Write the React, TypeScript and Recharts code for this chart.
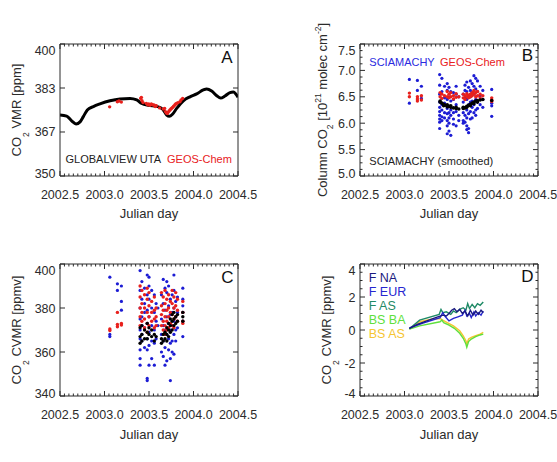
import React from 'react';
import { ComposedChart, XAxis, YAxis, Scatter, Line } from 'recharts';

const FONT = '"Liberation Sans", Arial, Helvetica, sans-serif';
const INK = '#2b2b2b';
const RED = '#e8201c';
const BLUE = '#1c1cd4';
const BLACK = '#000000';
const C_FNA = '#1a1a80';
const C_FEUR = '#2626d0';
const C_FAS = '#1f8a66';
const C_BSBA = '#5ee03c';
const C_BSAS = '#f5c531';

// ---------- shared x axis (Julian day as decimal year) ----------
const xDomain: [number, number] = [2002.5, 2004.5];
const xMajor = [2002.5, 2003.0, 2003.5, 2004.0, 2004.5];
const xLabels = ['2002.5', '2003.0', '2003.5', '2004.0', '2004.5'];
const xMinorStep = 0.05;

// ---------- Panel A ----------
const aYDomain: [number, number] = [350, 400];
const aYMajor = [350, 366.6667, 383.3333, 400];
const aYLabels = ['350', '367', '383', '400'];
const aGlobalview: [number, number][] = [
  [2002.5, 373.1], [2002.575, 372.7], [2002.631, 370.9], [2002.68, 369.7], [2002.725, 370.5],
  [2002.762, 372.5], [2002.807, 375.0], [2002.875, 376.3], [2002.949, 377.3], [2003.062, 378.5],
  [2003.174, 379.2], [2003.287, 379.4], [2003.362, 378.8], [2003.418, 377.5], [2003.493, 376.8],
  [2003.587, 376.4], [2003.654, 375.3], [2003.699, 373.1], [2003.728, 372.6], [2003.766, 373.5],
  [2003.811, 375.6], [2003.886, 378.5], [2003.961, 380.0], [2004.036, 381.1], [2004.11, 382.6],
  [2004.148, 383.0], [2004.204, 382.2], [2004.261, 380.4], [2004.305, 379.5], [2004.354, 380.3],
  [2004.41, 381.6], [2004.447, 381.8], [2004.5, 379.8],
];
const aGeosChem: [number, number][] = [
  [2003.058, 376.2], [2003.144, 378.1], [2003.163, 378.4], [2003.189, 378.0], [2003.407, 379.4],
  [2003.414, 379.8], [2003.421, 378.5], [2003.433, 377.8], [2003.47, 377.5], [2003.485, 377.0],
  [2003.497, 377.3], [2003.51, 376.8], [2003.526, 377.3], [2003.54, 377.0], [2003.556, 376.9],
  [2003.57, 376.3], [2003.582, 376.6], [2003.62, 375.8], [2003.66, 375.4], [2003.676, 375.6],
  [2003.685, 374.4], [2003.695, 373.9], [2003.706, 373.7], [2003.716, 374.2], [2003.726, 374.6],
  [2003.736, 375.0], [2003.746, 375.4], [2003.756, 375.7], [2003.766, 376.0], [2003.776, 376.4],
  [2003.79, 376.9], [2003.8, 377.3], [2003.811, 377.5], [2003.825, 377.8], [2003.848, 378.1],
  [2003.86, 378.8], [2003.878, 379.4],
];

// ---------- Panel B ----------
const bYDomain: [number, number] = [5.0, 7.5];
const bYMajor = [5.0, 5.5, 6.0, 6.5, 7.0, 7.5];
const bYLabels = ['5.0', '5.5', '6.0', '6.5', '7.0', '7.5'];
const bYMinorStep = 0.125;
const bSciamachy: [number, number[]][] = [
  [2003.055, [6.83, 6.38]], [2003.145, [6.81, 6.62]], [2003.19, [6.7, 6.47]],
  [2003.395, [6.92, 6.72, 6.55, 6.4, 6.3, 6.22, 6.15, 6.08, 6.02, 5.9]],
  [2003.42, [6.85, 6.6, 6.35, 6.25, 6.12, 6.05]], [2003.45, [6.7, 6.48, 6.38, 6.2, 6.1]],
  [2003.48, [6.75, 6.62, 6.45, 6.28, 6.18, 6.05, 5.95, 5.8]],
  [2003.5, [6.68, 6.5, 6.32, 6.2, 6.1, 6.0, 5.85]], [2003.52, [6.6, 6.42, 6.25, 6.15, 5.77]],
  [2003.55, [6.58, 6.45, 6.2, 6.08, 5.98]], [2003.58, [6.7, 6.55, 6.35, 6.22, 5.95]],
  [2003.61, [6.5, 6.15, 6.05]], [2003.66, [6.55, 6.4, 6.2, 6.05, 6.0]],
  [2003.68, [6.72, 6.62, 6.48, 6.3, 6.15, 6.02]], [2003.7, [6.78, 6.6, 6.45, 6.25, 6.1, 5.95, 5.88]],
  [2003.72, [6.68, 6.52, 6.35, 6.18, 5.9, 5.82]], [2003.74, [6.8, 6.62, 6.5, 6.4, 6.22, 6.08]],
  [2003.76, [6.75, 6.58, 6.42, 6.3, 6.1]], [2003.78, [6.9, 6.7, 6.55, 6.35, 6.2]],
  [2003.8, [6.85, 6.65, 6.45, 6.25, 6.15]], [2003.82, [6.8, 6.6, 6.4, 6.28]],
  [2003.85, [6.7, 6.52, 6.35]], [2003.88, [6.62, 6.45, 6.3]], [2003.98, [6.64, 6.38, 6.33, 6.13]],
];
const bGeosChem: [number, number[]][] = [
  [2003.055, [6.57, 6.5]], [2003.145, [6.5, 6.46, 6.42]], [2003.19, [6.52, 6.44]],
  [2003.4, [6.58, 6.5]], [2003.42, [6.55, 6.47]], [2003.45, [6.52]], [2003.48, [6.6, 6.5]],
  [2003.5, [6.55, 6.48]], [2003.52, [6.58, 6.5]], [2003.55, [6.52, 6.46]], [2003.58, [6.56, 6.49]],
  [2003.61, [6.5]], [2003.66, [6.55, 6.48]], [2003.68, [6.52, 6.45]], [2003.7, [6.56, 6.5]],
  [2003.72, [6.48, 6.53]], [2003.74, [6.55, 6.5]], [2003.76, [6.58, 6.52]], [2003.78, [6.62, 6.55]],
  [2003.8, [6.58, 6.5]], [2003.82, [6.6, 6.52]], [2003.85, [6.55, 6.48]], [2003.88, [6.52]],
  [2003.98, [6.48, 6.44, 6.41]],
];
const bSmoothed: [number, number[]][] = [
  [2003.4, [6.42, 6.4]], [2003.42, [6.38]], [2003.44, [6.36, 6.33]], [2003.46, [6.34]],
  [2003.48, [6.35, 6.31]], [2003.5, [6.32]], [2003.52, [6.3, 6.33]], [2003.55, [6.29]],
  [2003.58, [6.28, 6.3]], [2003.61, [6.27]], [2003.66, [6.28, 6.3]], [2003.68, [6.29]],
  [2003.7, [6.32, 6.3]], [2003.72, [6.34]], [2003.74, [6.36, 6.33]], [2003.76, [6.38]],
  [2003.78, [6.4, 6.37]], [2003.8, [6.42]], [2003.82, [6.43, 6.4]], [2003.85, [6.44]],
  [2003.88, [6.45]], [2003.98, [6.43]],
];

// ---------- Panel C ----------
const cYDomain: [number, number] = [340, 400];
const cYMajor = [340, 360, 380, 400];
const cYLabels = ['340', '360', '380', '400'];
const cSciamachy: [number, number[]][] = [
  [2003.06, [394, 368, 367]], [2003.145, [391, 388]], [2003.19, [390, 383, 379]],
  [2003.4, [397, 388, 380, 375, 370, 366, 361, 357, 354]], [2003.42, [392, 384, 376, 372, 368, 365]],
  [2003.45, [389, 382, 378, 371, 362]], [2003.48, [395, 386, 379, 373, 366, 361, 348, 347]],
  [2003.5, [394, 390, 384, 376, 369, 363, 354]], [2003.53, [388, 380, 372, 365, 357]],
  [2003.56, [386, 378, 370, 364, 354]], [2003.58, [382, 374, 366]], [2003.6, [380, 372]],
  [2003.64, [386, 375, 368, 360]], [2003.66, [393, 382, 372, 365, 358]],
  [2003.68, [389, 379, 370, 362, 354]], [2003.7, [392, 387, 376, 368, 356]],
  [2003.72, [390, 381, 373, 366, 361]], [2003.74, [384, 377, 370, 364, 357, 347]],
  [2003.76, [386, 378, 372, 365, 360]], [2003.78, [395, 388, 380, 374, 368, 359]],
  [2003.8, [383, 376, 370, 365]], [2003.82, [385, 378, 371]], [2003.88, [389, 384, 381, 378, 374, 367]],
];
const cGeosChem: [number, number[]][] = [
  [2003.06, [370.5, 369.8]], [2003.145, [378, 372.5, 371.5]], [2003.19, [373, 372.3]],
  [2003.4, [390, 385, 380, 376, 372]], [2003.42, [388, 382, 378, 374]], [2003.45, [386, 380, 375, 371]],
  [2003.48, [389, 384, 378, 373, 369]], [2003.5, [387, 381, 376, 372]], [2003.53, [383, 378, 374]],
  [2003.56, [385, 379, 375, 371]], [2003.58, [380, 376, 372]], [2003.64, [387, 381, 377, 372]],
  [2003.66, [385, 379, 374, 370]], [2003.68, [388, 382, 376, 372, 368]], [2003.7, [384, 379, 374, 370]],
  [2003.72, [386, 380, 376, 371]], [2003.74, [383, 378, 373]], [2003.76, [388, 382, 377, 372]],
  [2003.78, [385, 380, 375, 371]], [2003.8, [387, 381, 376]], [2003.82, [384, 379, 374]],
  [2003.88, [383, 378, 374, 373]],
];
const cSmoothed: [number, number[]][] = [
  [2003.4, [371, 367, 364]], [2003.42, [372, 368, 365]], [2003.45, [370, 366]],
  [2003.48, [373, 369, 366]], [2003.5, [371, 368]], [2003.53, [370, 367]], [2003.56, [368, 365]],
  [2003.58, [367]], [2003.64, [366, 364]], [2003.66, [368, 365]], [2003.68, [369, 366]],
  [2003.7, [371, 368, 365]], [2003.72, [373, 370, 367]], [2003.74, [375, 372, 369]],
  [2003.76, [377, 374, 370]], [2003.78, [378, 375, 372]], [2003.8, [376, 373]], [2003.82, [377, 374]],
  [2003.88, [378, 376, 374]],
];

// ---------- Panel D ----------
const dYDomain: [number, number] = [-4, 4];
const dYMajor = [-4, -2, 0, 2, 4];
const dYLabels = ['-4', '-2', '0', '2', '4'];
const dYMinorStep = 0.5;
const dFNA: [number, number][] = [
  [2003.055, 0.1], [2003.15, 0.35], [2003.25, 0.55], [2003.35, 0.75], [2003.43, 0.9], [2003.47, 0.85],
  [2003.5, 1.0], [2003.53, 1.2], [2003.56, 1.3], [2003.59, 1.1], [2003.62, 1.25], [2003.65, 1.0],
  [2003.68, 1.15], [2003.71, 0.85], [2003.74, 1.2], [2003.77, 0.9], [2003.8, 1.15], [2003.83, 0.95],
  [2003.86, 1.2], [2003.885, 1.05],
];
const dFEUR: [number, number][] = [
  [2003.055, 0.12], [2003.2, 0.4], [2003.4, 0.75], [2003.43, 1.05], [2003.46, 0.8], [2003.5, 0.55],
  [2003.55, 0.7], [2003.6, 0.8], [2003.65, 0.9], [2003.68, 1.2], [2003.7, 0.85], [2003.73, 1.0],
  [2003.75, 0.75], [2003.78, 1.1], [2003.8, 0.85], [2003.83, 1.05], [2003.86, 0.9], [2003.885, 1.15],
];
const dFAS: [number, number][] = [
  [2003.055, 0.08], [2003.17, 0.6], [2003.39, 0.95], [2003.41, 1.25], [2003.43, 1.05], [2003.47, 1.1],
  [2003.52, 0.95], [2003.55, 1.15], [2003.58, 1.05], [2003.62, 1.25], [2003.66, 1.35], [2003.69, 1.2],
  [2003.71, 1.6], [2003.73, 1.3], [2003.76, 1.55], [2003.79, 1.35], [2003.82, 1.6], [2003.85, 1.5],
  [2003.885, 1.7],
];
const dBSBA: [number, number][] = [
  [2003.055, 0.05], [2003.17, 0.25], [2003.4, 0.5], [2003.42, 0.6], [2003.44, 0.45], [2003.5, 0.3],
  [2003.56, 0.1], [2003.62, -0.2], [2003.66, -0.5], [2003.69, -0.85], [2003.7, -1.05], [2003.72, -0.7],
  [2003.75, -0.55], [2003.8, -0.4], [2003.85, -0.3], [2003.885, -0.25],
];
const dBSAS: [number, number][] = [
  [2003.055, 0.05], [2003.17, 0.5], [2003.3, 0.65], [2003.4, 0.7], [2003.43, 0.6], [2003.48, 0.45],
  [2003.55, 0.25], [2003.62, -0.05], [2003.66, -0.35], [2003.69, -0.65], [2003.7, -0.85], [2003.72, -0.55],
  [2003.75, -0.45], [2003.8, -0.35], [2003.85, -0.25], [2003.885, -0.15],
];
const dLegend = [
  { name: 'F NA', color: C_FNA },
  { name: 'F EUR', color: C_FEUR },
  { name: 'F AS', color: C_FAS },
  { name: 'BS BA', color: C_BSBA },
  { name: 'BS AS', color: C_BSAS },
];

// ---------- helpers ----------
const pairs = (p: [number, number][]) => p.map(([x, y]) => ({ x, y }));
const cols = (c: [number, number[]][]) => c.flatMap(([x, ys]) => ys.map((y) => ({ x, y })));
const withMinor = (majors: number[], step: number | null) => {
  if (!step) return majors;
  const out: number[] = [];
  const a = majors[0];
  const b = majors[majors.length - 1];
  const n = Math.round((b - a) / step);
  for (let i = 0; i <= n; i++) out.push(Math.round((a + i * step) * 1e6) / 1e6);
  return out;
};
const majorIndex = (majors: number[], v: number) => majors.findIndex((m) => Math.abs(m - v) < 1e-3);
const dotShape = (color: string, r: number) => (p: any) =>
  p.cx == null ? <g /> : <circle cx={p.cx} cy={p.cy} r={r} fill={color} />;

const MAJ = 5;
const MIN = 2.5;

const bottomTick = (majors: number[], labels: string[]) => (p: any) => {
  const { x, y, payload } = p;
  const i = majorIndex(majors, payload.value);
  return (
    <g>
      <line x1={x} y1={y} x2={x} y2={y - (i >= 0 ? MAJ : MIN)} stroke={INK} />
      {i >= 0 && (
        <text x={x} y={y + 22.5} textAnchor="middle" fontSize={12.5} fill={INK} fontFamily={FONT}>
          {labels[i]}
        </text>
      )}
    </g>
  );
};
const topTick = (majors: number[]) => (p: any) => {
  const { x, y, payload } = p;
  const i = majorIndex(majors, payload.value);
  return <line x1={x} y1={y} x2={x} y2={y + (i >= 0 ? MAJ : MIN)} stroke={INK} />;
};
const leftTick = (majors: number[], labels: string[]) => (p: any) => {
  const { x, y, payload } = p;
  const i = majorIndex(majors, payload.value);
  const nudge = i === majors.length - 1 ? 6.5 : i === 0 ? -3 : 0;
  return (
    <g>
      <line x1={x} y1={y} x2={x + (i >= 0 ? MAJ : MIN)} y2={y} stroke={INK} />
      {i >= 0 && (
        <text x={x - 4.5} y={y + nudge} dy="0.36em" textAnchor="end" fontSize={12.5} fill={INK} fontFamily={FONT}>
          {labels[i]}
        </text>
      )}
    </g>
  );
};
const rightTick = (majors: number[]) => (p: any) => {
  const { x, y, payload } = p;
  const i = majorIndex(majors, payload.value);
  return <line x1={x} y1={y} x2={x - (i >= 0 ? MAJ : MIN)} y2={y} stroke={INK} />;
};

const xTicks = withMinor(xMajor, xMinorStep);

function frame(yDomain: [number, number], yMajor: number[], yLabels: string[], yMinor: number | null) {
  const yTicks = withMinor(yMajor, yMinor);
  return [
    <XAxis key="xb" xAxisId="b" type="number" dataKey="x" domain={xDomain} allowDataOverflow ticks={xTicks}
      interval={0} orientation="bottom" height={40} tickSize={0} tickMargin={0} tickLine={false}
      axisLine={{ stroke: INK }} tick={bottomTick(xMajor, xLabels)} />,
    <XAxis key="xt" xAxisId="t" type="number" dataKey="x" domain={xDomain} allowDataOverflow ticks={xTicks}
      interval={0} orientation="top" height={1} tickSize={0} tickMargin={0} tickLine={false}
      axisLine={{ stroke: INK }} tick={topTick(xMajor)} />,
    <YAxis key="yl" yAxisId="l" type="number" dataKey="y" domain={yDomain} allowDataOverflow ticks={yTicks}
      interval={0} orientation="left" width={40} tickSize={0} tickMargin={0} tickLine={false}
      axisLine={{ stroke: INK }} tick={leftTick(yMajor, yLabels)} />,
    <YAxis key="yr" yAxisId="r" type="number" dataKey="y" domain={yDomain} allowDataOverflow ticks={yTicks}
      interval={0} orientation="right" width={1} tickSize={0} tickMargin={0} tickLine={false}
      axisLine={{ stroke: INK }} tick={rightTick(yMajor)} />,
  ];
}

const txt = (x: number, y: number, s: string, color: string, size: number, anchor: string = 'start') => (
  <text x={x} y={y} fill={color} fontSize={size} fontFamily={FONT} textAnchor={anchor}>{s}</text>
);

const yTitle = (x: number, y: number, parts: React.ReactNode) => (
  <text transform={`translate(${x},${y}) rotate(-90)`} textAnchor="middle" fontSize={13} fill={INK} fontFamily={FONT}>
    {parts}
  </text>
);

const co2cvmr = (
  <>
    <tspan>CO</tspan>
    <tspan dy={8} fontSize={8.5}>2</tspan>
    <tspan dy={-8}> CVMR [ppmv]</tspan>
  </>
);

const W1 = 278;
const W2 = 257;
const H = 230;

export default function App() {
  return (
    <div style={{ position: 'absolute', left: 0, top: 0, width: 557, height: 462, background: '#fff', fontFamily: FONT }}>
      {/* Panel A */}
      <div style={{ position: 'absolute', left: 0, top: 0 }}>
        <ComposedChart width={W1} height={H} margin={{ top: 43, right: W1 - 238 - 1, bottom: H - 44 - 132 - 40, left: 20 }}>
          {frame(aYDomain, aYMajor, aYLabels, null)}
          <Line xAxisId="b" yAxisId="l" data={pairs(aGlobalview)} dataKey="y" type="monotone" stroke={BLACK}
            strokeWidth={3} dot={false} isAnimationActive={false} />
          <Scatter xAxisId="b" yAxisId="l" data={pairs(aGeosChem)} fill={RED} shape={dotShape(RED, 1.7)} isAnimationActive={false} />
          {txt(232.5, 63, 'A', '#111', 17, 'end')}
          {txt(65.5, 163, 'GLOBALVIEW UTA', '#222', 11)}
          {txt(167, 163, 'GEOS-Chem', RED, 11)}
          {yTitle(20.5, 110, (
            <>
              <tspan>CO</tspan>
              <tspan dy={8} fontSize={8.5}>2</tspan>
              <tspan dy={-8}> VMR [ppm]</tspan>
            </>
          ))}
          {txt(149, 218, 'Julian day', INK, 13, 'middle')}
        </ComposedChart>
      </div>

      {/* Panel B */}
      <div style={{ position: 'absolute', left: 300, top: 0 }}>
        <ComposedChart width={W2} height={H} margin={{ top: 43, right: W2 - 238 - 1, bottom: H - 44 - 132 - 40, left: 20 }}>
          {frame(bYDomain, bYMajor, bYLabels, bYMinorStep)}
          <Scatter xAxisId="b" yAxisId="l" data={cols(bSciamachy)} fill={BLUE} shape={dotShape(BLUE, 1.6)} isAnimationActive={false} />
          <Scatter xAxisId="b" yAxisId="l" data={cols(bGeosChem)} fill={RED} shape={dotShape(RED, 1.7)} isAnimationActive={false} />
          <Scatter xAxisId="b" yAxisId="l" data={cols(bSmoothed)} fill={BLACK} shape={dotShape(BLACK, 1.8)} isAnimationActive={false} />
          {txt(233, 61, 'B', '#111', 17, 'end')}
          {txt(69.3, 65.5, 'SCIAMACHY', '#2a2ae0', 11)}
          {txt(140, 65.5, 'GEOS-Chem', RED, 11)}
          {txt(69.3, 165, 'SCIAMACHY (smoothed)', '#222', 11)}
          {yTitle(26.5, 110, (
            <>
              <tspan>Column CO</tspan>
              <tspan dy={6} fontSize={8.5}>2</tspan>
              <tspan dy={-6}> [10</tspan>
              <tspan dy={-6} fontSize={8.5}>21</tspan>
              <tspan dy={6}> molec cm</tspan>
              <tspan dy={-6} fontSize={8.5}>-2</tspan>
              <tspan dy={6}>]</tspan>
            </>
          ))}
          {txt(149, 218, 'Julian day', INK, 13, 'middle')}
        </ComposedChart>
      </div>

      {/* Panel C */}
      <div style={{ position: 'absolute', left: 0, top: 232 }}>
        <ComposedChart width={W1} height={H} margin={{ top: 31, right: W1 - 238 - 1, bottom: H - 32 - 132 - 40, left: 20 }}>
          {frame(cYDomain, cYMajor, cYLabels, null)}
          <Scatter xAxisId="b" yAxisId="l" data={cols(cSciamachy)} fill={BLUE} shape={dotShape(BLUE, 1.6)} isAnimationActive={false} />
          <Scatter xAxisId="b" yAxisId="l" data={cols(cGeosChem)} fill={RED} shape={dotShape(RED, 1.7)} isAnimationActive={false} />
          <Scatter xAxisId="b" yAxisId="l" data={cols(cSmoothed)} fill={BLACK} shape={dotShape(BLACK, 1.7)} isAnimationActive={false} />
          {txt(233.5, 50.7, 'C', '#111', 17, 'end')}
          {yTitle(20.5, 98, co2cvmr)}
          {txt(149, 207, 'Julian day', INK, 13, 'middle')}
        </ComposedChart>
      </div>

      {/* Panel D */}
      <div style={{ position: 'absolute', left: 300, top: 232 }}>
        <ComposedChart width={W2} height={H} margin={{ top: 31, right: W2 - 238 - 1, bottom: H - 32 - 132 - 40, left: 20 }}>
          {frame(dYDomain, dYMajor, dYLabels, dYMinorStep)}
          <Line xAxisId="b" yAxisId="l" data={pairs(dBSAS)} dataKey="y" type="linear" stroke={C_BSAS} strokeWidth={1.4} dot={false} isAnimationActive={false} />
          <Line xAxisId="b" yAxisId="l" data={pairs(dBSBA)} dataKey="y" type="linear" stroke={C_BSBA} strokeWidth={1.4} dot={false} isAnimationActive={false} />
          <Line xAxisId="b" yAxisId="l" data={pairs(dFAS)} dataKey="y" type="linear" stroke={C_FAS} strokeWidth={1.4} dot={false} isAnimationActive={false} />
          <Line xAxisId="b" yAxisId="l" data={pairs(dFEUR)} dataKey="y" type="linear" stroke={C_FEUR} strokeWidth={1.4} dot={false} isAnimationActive={false} />
          <Line xAxisId="b" yAxisId="l" data={pairs(dFNA)} dataKey="y" type="linear" stroke={C_FNA} strokeWidth={1.4} dot={false} isAnimationActive={false} />
          {txt(233.5, 49.7, 'D', '#111', 17, 'end')}
          {dLegend.map((l, i) => (
            <text key={l.name} x={68.7} y={50 + i * 14} fill={l.color} fontSize={12.5} fontFamily={FONT}>{l.name}</text>
          ))}
          {yTitle(30.5, 98, co2cvmr)}
          {txt(149, 207, 'Julian day', INK, 13, 'middle')}
        </ComposedChart>
      </div>
    </div>
  );
}
